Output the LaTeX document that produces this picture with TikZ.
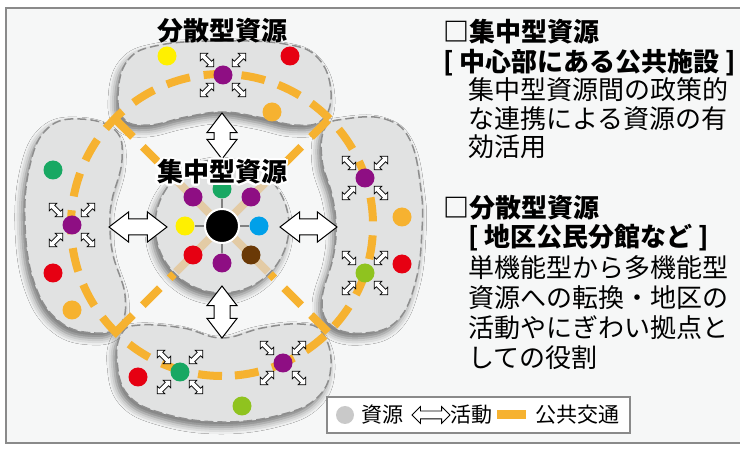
\documentclass[tikz,border=0pt]{standalone}
\usepackage{fontspec}
\setmainfont{Noto Sans CJK JP}
\usepackage{contour}
\contourlength{2.2pt}
\contournumber{16}
\usetikzlibrary{shapes.arrows,shadows.blur}

\definecolor{bggray}{HTML}{F6F7F7}
\definecolor{framegray}{HTML}{8A8A8A}
\definecolor{beangray}{HTML}{E1E2E2}
\definecolor{dashgray}{HTML}{8E8E8E}
\definecolor{busorange}{HTML}{F6B230}
\definecolor{fadetan}{HTML}{E3CBA5}
\definecolor{rpurple}{HTML}{8E0E83}
\definecolor{rgreen}{HTML}{18A863}
\definecolor{ryellow}{HTML}{FFF000}
\definecolor{rred}{HTML}{E60012}
\definecolor{rblue}{HTML}{00A0E9}
\definecolor{rbrown}{HTML}{6A3906}
\definecolor{rlime}{HTML}{8FC31F}
\definecolor{legendgray}{HTML}{C9C9C9}

\tikzset{
  bean/.style={fill=beangray, draw=dashgray, line width=1.5pt, dash pattern=on 9pt off 4pt,
    blur shadow={shadow xshift=-3pt, shadow yshift=-5pt, shadow blur radius=7pt, shadow opacity=55}},
  res/.style={circle, inner sep=0pt, minimum size=19pt},
  bus/.style={draw=busorange, line width=8pt, dash pattern=on 24pt off 14pt},
  bigarrow/.style={double arrow, draw, fill=white, line width=1pt, inner xsep=0pt, inner ysep=7.5pt,
    double arrow head extend=7pt, double arrow tip angle=75},
  minarrow/.style={double arrow, draw, fill=white, line width=0.7pt, inner xsep=0pt, inner ysep=2pt,
    minimum height=19pt, double arrow head extend=3pt},
  lbl/.style={font=\bfseries\fontsize{26}{30}\selectfont, inner sep=0pt},
  txt/.style={font=\fontsize{26}{30}\selectfont, inner sep=0pt, anchor=base west},
  lgtxt/.style={font=\fontsize{21}{21}\selectfont, inner sep=0pt, anchor=west},
}

\begin{document}
\begin{tikzpicture}[x=1pt,y=-1pt]
  \useasboundingbox (0,0) rectangle (740,457);
  \draw[framegray, fill=bggray, line width=2pt] (6,8) rectangle (760,443);

  % beans
  \path[bean] plot[smooth cycle, tension=0.7] coordinates {(118,95) (128,60) (160,45) (222,41)
    (285,44) (318,58) (331,92) (322,120) (295,125) (258,117) (222,112) (186,117) (150,125) (125,120)};
  \path[bean] plot[smooth cycle, tension=0.7] coordinates {(80,119) (115,130) (122,160) (112,200)
    (110,225) (113,255) (125,295) (120,325) (95,333) (60,322) (35,285) (25,225) (30,165) (48,128)};
  \path[bean] plot[smooth cycle, tension=0.7] coordinates {(345,119) (385,119) (410,140) (421,190)
    (422,230) (416,280) (398,320) (365,333) (332,326) (322,300) (333,258) (336,227) (332,195) (322,160) (325,128)};
  \path[bean] plot[smooth cycle, tension=0.7] coordinates {(140,325) (183,328) (222,338) (262,328)
    (300,324) (322,332) (331,365) (318,397) (280,415) (222,422) (165,414) (128,395) (117,360) (122,333)};

  \node[bean, circle, minimum size=134pt, inner sep=0pt] (hub) at (222,226) {};

  % bus line
  \draw[bus] (222,225) ++(90:151) arc[start angle=90, end angle=450, radius=151];
  \begin{scope}[shift={(222,226)}]
    \foreach \a in {45,135,225,315} {
      \draw[fadetan, line width=8pt] (0,0) -- (\a:65);
      \draw[bus] (\a:150) -- (\a:68);
    }
  \end{scope}

  % big arrows
  \node[bigarrow, rotate=90, minimum height=46pt] (atop) at (222,136) {};
  \node[bigarrow, rotate=90, minimum height=52pt] (abot) at (222,312) {};
  \node[bigarrow, minimum height=58pt] (aleft) at (138,227) {};
  \node[bigarrow, minimum height=57pt] (aright) at (308.5,227) {};

  % hub resources
  \node[circle, fill=black, draw=white, line width=2pt, minimum size=34pt, inner sep=0pt] (core) at (222,226) {};
  \begin{scope}[shift={(222,226)}]
    \node[res, fill=rgreen] (h1) at (0,-37) {};
    \node[res, fill=rblue] (h2) at (37,0) {};
    \node[res, fill=rpurple] (h3) at (0,37) {};
    \node[res, fill=ryellow] (h4) at (-37,0) {};
    \node[res, fill=rpurple] (h5) at (-29,-29) {};
    \node[res, fill=rpurple] (h6) at (29,-29) {};
    \node[res, fill=rred] (h7) at (-29,29) {};
    \node[res, fill=rbrown] (h8) at (29,29) {};
  \end{scope}
  \foreach \i in {1,...,4}
    \draw[gray, line width=2pt] (core) -- (h\i);

  % bean resources
  \node[res, fill=ryellow] (t1) at (167,56) {};
  \node[res, fill=rred] (t2) at (290,56) {};
  \node[res, fill=rpurple] (tp) at (223,75) {};
  \node[res, fill=busorange] (t3) at (272,112) {};
  \node[res, fill=rgreen] (l1) at (53,170) {};
  \node[res, fill=rpurple] (lp) at (72,225) {};
  \node[res, fill=rred] (l2) at (53,273) {};
  \node[res, fill=busorange] (l3) at (72,310) {};
  \node[res, fill=rpurple] (rp) at (365,178) {};
  \node[res, fill=busorange] (r1) at (402,217) {};
  \node[res, fill=rred] (r2) at (402,264) {};
  \node[res, fill=rlime] (rg) at (365,273) {};
  \node[res, fill=rred] (b1) at (138,377) {};
  \node[res, fill=rgreen] (bg) at (180,372) {};
  \node[res, fill=rpurple] (bp) at (283,363) {};
  \node[res, fill=rlime] (b2) at (242,406) {};

  \foreach \hubname in {tp,lp,rp,rg,bg,bp}
    \foreach \dx/\dy/\ang [count=\k] in {-16/-15/135, 16/-15/45, -16/15/45, 16/15/135}
      \node[minarrow, rotate=\ang] (\hubname a\k) at ([shift={(\dx,\dy)}]\hubname) {};

  % labels
  \node[lbl] (dlabel) at (222,31) {分散型資源};
  \node[lbl] (clabel) at (222,173) {\contour{white}{集中型資源}};

  % legend
  \node[draw=framegray, fill=white, line width=1.5pt, minimum width=303pt, minimum height=36pt,
    inner sep=0pt] (legend) at (478.5,415) {};
  \node[circle, fill=legendgray, minimum size=18pt, inner sep=0pt] (lgdot) at (345,415) {};
  \node[lgtxt] (lgres) at (361,415) {資源};
  \node[double arrow, draw, fill=white, line width=0.8pt, inner xsep=0pt, inner ysep=3.5pt,
    minimum height=38pt, double arrow head extend=4.5pt] (lgarr) at (431,415) {};
  \node[lgtxt] (lgact) at (450,415) {活動};
  \node[fill=busorange, minimum width=29pt, minimum height=9pt, inner sep=0pt] (lgbar) at (511,415) {};
  \node[lgtxt] (lgbus) at (535,415) {公共交通};

  % right text
  \node[txt, font=\bfseries\fontsize{26}{30}\selectfont] (c1) at (443,42) {□集中型資源};
  \node[txt, font=\bfseries\fontsize{26}{30}\selectfont] (c2) at (443,72) {[ 中心部にある公共施設 ]};
  \foreach \ln [count=\i] in {集中型資源間の政策的, な連携による資源の有, 効活用}
    \node[txt] (cd\i) at (468,{100+(\i-1)*28.5}) {\ln};
  \node[txt, font=\bfseries\fontsize{26}{30}\selectfont] (d1) at (443,218) {□分散型資源};
  \node[txt, font=\bfseries\fontsize{26}{30}\selectfont] (d2) at (468,247) {[ 地区公民分館など ]};
  \foreach \ln [count=\i] in {単機能型から多機能型, 資源への転換・地区の, 活動やにぎわい拠点と, しての役割}
    \node[txt] (dd\i) at (468,{278+(\i-1)*29.7}) {\ln};
\end{tikzpicture}
\end{document}
